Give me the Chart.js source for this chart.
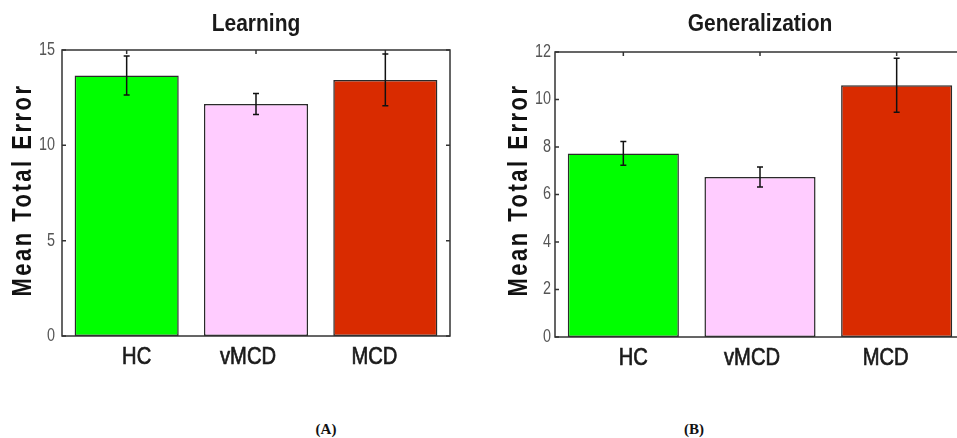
<!DOCTYPE html>
<html lang="en">
<head>
    <meta charset="utf-8">
    <script src="https://cdn.jsdelivr.net/npm/chart.js"></script>
    <style>
        body {
            margin: 0;
            width: 957px;
            height: 438px;
            overflow: hidden;
            background: #ffffff;
            position: relative;
        }
        .panel {
            position: absolute;
            top: 0;
            height: 400px;
        }
        #panelA { left: 0; width: 480px; }
        #panelB { left: 480px; width: 500px; }
        .tag {
            position: absolute;
            top: 421px;
            font-family: "Liberation Serif", "DejaVu Serif", serif;
            font-weight: bold;
            font-size: 15px;
            color: #111;
            transform: translateX(-50%);
        }
    </style>
</head>
<body>
    <div class="panel" id="panelA"><canvas id="learningChart" width="480" height="400"></canvas></div>
    <div class="panel" id="panelB"><canvas id="generalizationChart" width="500" height="400"></canvas></div>
    <div class="tag" style="left: 326px;">(A)</div>
    <div class="tag" style="left: 694px;">(B)</div>
    <script>
        // data
        const categories = ['HC', 'vMCD', 'MCD'];
        const learningMeans = [13.66, 12.17, 13.43];
        const learningErrors = [1.02, 0.55, 1.36];
        const learningTicks = [0, 5, 10, 15];
        const generalizationMeans = [7.73, 6.74, 10.6];
        const generalizationErrors = [0.5, 0.42, 1.14];
        const generalizationTicks = [0, 2, 4, 6, 8, 10, 12];

        const barColors = ['#00ff00', '#ffccff', '#d92b00'];
        // the original labels are hand placed, not centred under the bars
        const labelNudge = [10, -8, -11];
        const sansFont = "'Liberation Sans', Arial, sans-serif";

        // draw text squeezed horizontally (the original uses a narrow face)
        function narrowText(ctx, text, x, y, sx, sy, stroke) {
            ctx.save();
            ctx.translate(x, y);
            ctx.scale(sx, sy);
            ctx.fillText(text, 0, 0);
            if (stroke) ctx.strokeText(text, 0, 0);
            ctx.restore();
        }

        // frame, inward ticks, tick labels, error bars and titles, drawn with the chart's own scales
        const decorPlugin = {
            id: 'decor',
            afterDatasetsDraw(chart, args, opts) {
                const ctx = chart.ctx;
                const area = chart.chartArea;
                const x = chart.scales.x;
                const y = chart.scales.y;
                ctx.save();
                ctx.strokeStyle = '#333';
                ctx.lineWidth = 1.5;
                ctx.strokeRect(area.left, area.top, area.right - area.left, area.bottom - area.top);

                // inward tick marks
                ctx.beginPath();
                y.ticks.forEach(t => {
                    const py = y.getPixelForValue(t.value);
                    ctx.moveTo(area.left, py); ctx.lineTo(area.left + 4, py);
                    ctx.moveTo(area.right, py); ctx.lineTo(area.right - 4, py);
                });
                categories.forEach((c, i) => {
                    const px = x.getPixelForValue(i);
                    ctx.moveTo(px, area.top); ctx.lineTo(px, area.top + 4);
                });
                ctx.stroke();

                // error bars
                const means = opts.means;
                const errs = opts.errors;
                ctx.strokeStyle = '#111';
                ctx.lineWidth = 1.5;
                means.forEach((m, i) => {
                    const px = x.getPixelForValue(i);
                    const top = y.getPixelForValue(m + errs[i]);
                    const bot = y.getPixelForValue(m - errs[i]);
                    ctx.beginPath();
                    ctx.moveTo(px, top); ctx.lineTo(px, bot);
                    ctx.moveTo(px - 3, top); ctx.lineTo(px + 3, top);
                    ctx.moveTo(px - 3, bot); ctx.lineTo(px + 3, bot);
                    ctx.stroke();
                });

                // y tick labels
                ctx.fillStyle = '#555';
                ctx.font = '18px ' + sansFont;
                ctx.textAlign = 'right';
                ctx.textBaseline = 'middle';
                y.ticks.forEach(t => {
                    narrowText(ctx, String(t.value), area.left - opts.tickPad, y.getPixelForValue(t.value), 0.8, 1);
                });

                // category labels
                ctx.fillStyle = '#1a1a1a';
                ctx.strokeStyle = '#1a1a1a';
                ctx.lineWidth = 0.7;
                ctx.font = '24px ' + sansFont;
                ctx.textAlign = 'center';
                categories.forEach((c, i) => {
                    narrowText(ctx, c, x.getPixelForValue(i) + labelNudge[i], area.bottom + 21, 0.84, 1, true);
                });
                ctx.restore();
            },
            afterDraw(chart, args, opts) {
                const ctx = chart.ctx;
                const area = chart.chartArea;
                ctx.save();
                // chart title
                ctx.fillStyle = '#1a1a1a';
                ctx.textAlign = 'center';
                ctx.textBaseline = 'middle';
                ctx.font = 'bold 21px ' + sansFont;
                narrowText(ctx, opts.title, (area.left + area.right) / 2, 25, 1, 1.12);

                // y axis title
                ctx.fillStyle = '#111';
                ctx.font = 'bold 22px ' + sansFont;
                ctx.letterSpacing = '2.5px';
                ctx.translate(opts.yTitleX, 190);
                ctx.rotate(-Math.PI / 2);
                ctx.scale(1, 1.25);
                ctx.fillText('Mean Total Error', 0, 0);
                ctx.restore();
            }
        };

        function makeChart(canvasId, means, errors, tickValues, opts) {
            const ctx = document.getElementById(canvasId).getContext('2d');
            return new Chart(ctx, {
                type: 'bar',
                data: {
                    labels: categories,
                    datasets: [{
                        data: means,
                        backgroundColor: barColors,
                        borderColor: '#2a2a2a',
                        borderWidth: 1.5,
                        borderSkipped: false,
                        categoryPercentage: 1,
                        barPercentage: opts.barPct
                    }]
                },
                options: {
                    responsive: false,
                    animation: false,
                    layout: { padding: opts.padding },
                    plugins: {
                        legend: { display: false },
                        tooltip: { enabled: false },
                        decor: {
                            means: means,
                            errors: errors,
                            title: opts.title,
                            yTitleX: opts.yTitleX,
                            tickPad: opts.tickPad
                        }
                    },
                    scales: {
                        x: {
                            grid: { display: false, drawTicks: false },
                            border: { display: false },
                            ticks: { display: false },
                            afterFit(scale) { scale.height = 40; }
                        },
                        y: {
                            min: tickValues[0],
                            max: tickValues[tickValues.length - 1],
                            grid: { display: false, drawTicks: false },
                            border: { display: false },
                            ticks: { display: false },
                            afterBuildTicks(scale) {
                                scale.ticks = tickValues.map(v => ({ value: v }));
                            },
                            afterFit(scale) { scale.width = opts.yWidth; }
                        }
                    }
                },
                plugins: [decorPlugin]
            });
        }

        makeChart('learningChart', learningMeans, learningErrors, learningTicks, {
            title: 'Learning',
            barPct: 0.805,
            padding: { top: 50, right: 30, bottom: 24, left: 0 },
            yWidth: 62,
            tickPad: 7,
            yTitleX: 23
        });

        makeChart('generalizationChart', generalizationMeans, generalizationErrors, generalizationTicks, {
            title: 'Generalization',
            barPct: 0.813,
            padding: { top: 52, right: 15, bottom: 23, left: 0 },
            yWidth: 75,
            tickPad: 4,
            yTitleX: 39
        });
    </script>
</body>
</html>
